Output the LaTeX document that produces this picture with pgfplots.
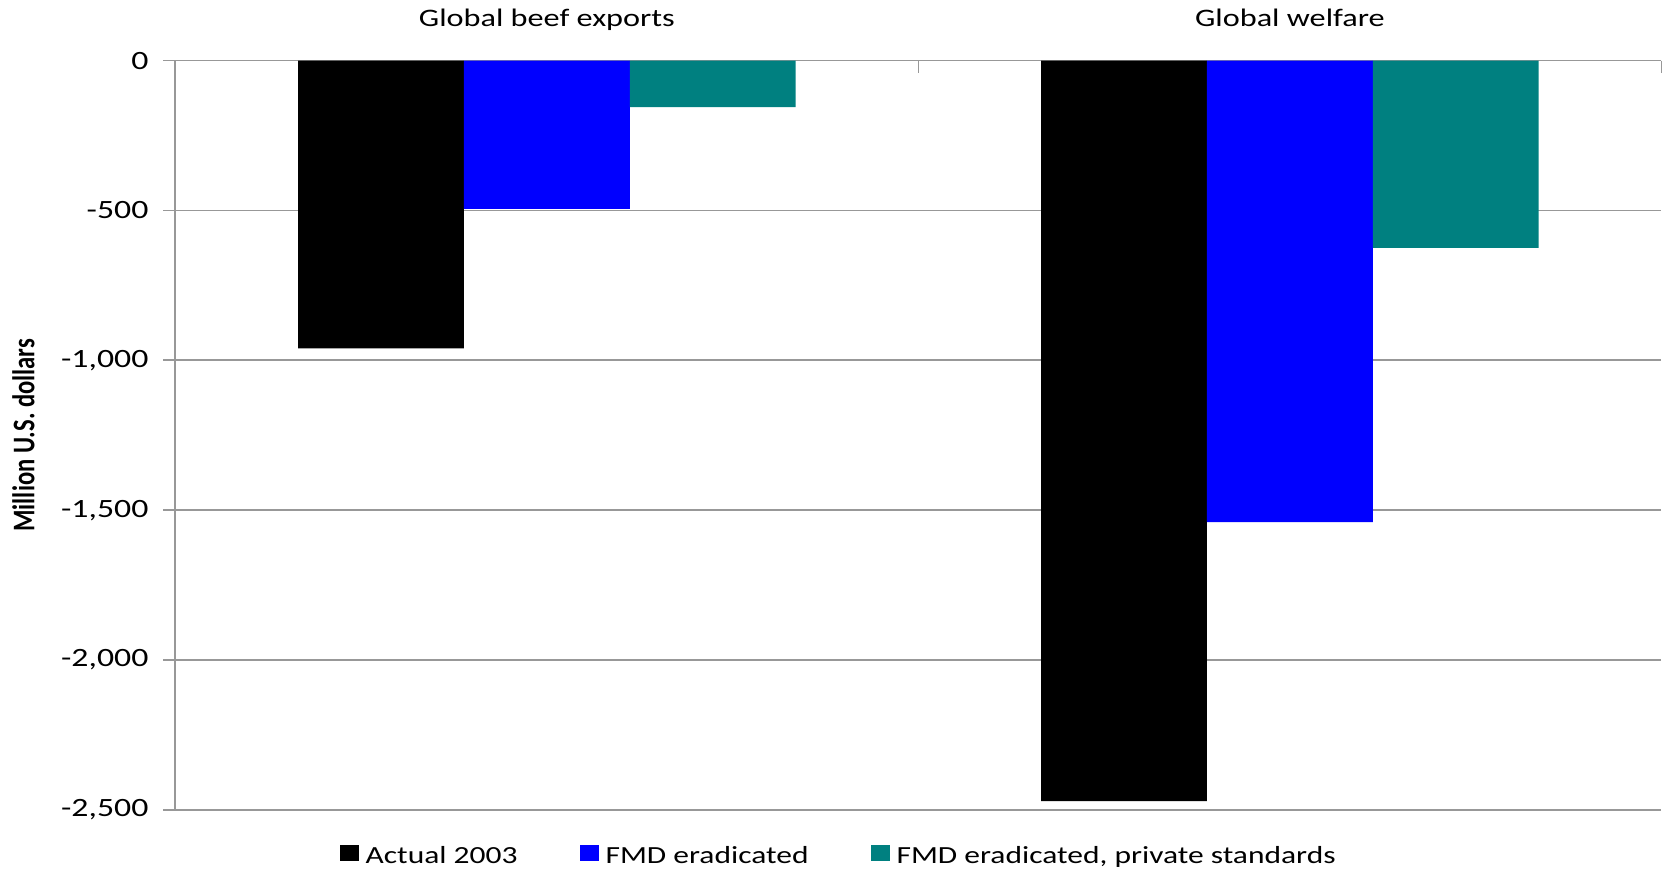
\documentclass[border=0pt]{standalone}
\usepackage{fontspec}
\setmainfont{Carlito}[FakeStretch=1.28]
\newfontfamily\ylabfont{Carlito}
\usepackage{graphicx}
\usepackage{pgfplots}
\pgfplotsset{compat=1.18}
\definecolor{fmdblue}{RGB}{0,0,255}
\definecolor{fmdteal}{RGB}{0,128,128}
\definecolor{gridgray}{RGB}{152,152,152}

\begin{document}
\fontsize{12.3pt}{14.8pt}\selectfont
\begin{tikzpicture}
\path[use as bounding box] (-87.7pt,-31pt) rectangle (745.8pt,405pt);
\begin{axis}[
  at={(0pt,0pt)}, anchor=south west,
  scale only axis, width=743pt, height=374.7pt,
  ybar=0pt, bar width=0.2232,
  xmin=-0.5, xmax=1.5, ymin=-2500, ymax=0,
  axis x line*=top, axis y line*=left,
  axis line style={draw=gridgray, line width=0.9pt, -},
  xtick={-0.5,0.5,1.5}, xticklabels={},
  xtick align=inside,
  extra x ticks={0,1},
  extra x tick labels={Global beef exports, Global welfare},
  extra x tick style={major tick length=0pt},
  xticklabel style={anchor=base, yshift=17pt, font=\fontsize{12.6pt}{15pt}\selectfont},
  ytick={-2500,-2000,-1500,-1000,-500,0},
  yticklabels={{-2,500},{-2,000},{-1,500},{-1,000},{-500},{0}},
  yticklabel style={font=\fontsize{13.2pt}{15pt}\selectfont, xshift=-3.2pt},
  ytick align=outside,
  major tick length=6pt,
  tick style={draw=gridgray, line width=0.9pt},
  ymajorgrids, grid style={draw=gridgray, line width=0.9pt},
  ylabel={\scalebox{1}[1.28]{\ylabfont\bfseries Million U.S. dollars}},
  every axis y label/.style={at={(rel axis cs:0,0.5)}, xshift=-76pt, rotate=90, anchor=center},
  legend style={at={(0.447,0)}, anchor=center, yshift=-23.5pt, draw=none, fill=none,
    legend columns=3, /tikz/every even column/.append style={column sep=29pt}},
  legend cell align=left,
  legend image code/.code={\draw[#1,draw=none] (0pt,-2.2pt) rectangle (9.7pt,6.1pt);
    \path (11pt,0pt);},
]
\addplot[fill=black, draw=none] coordinates {(0,-960) (1,-2470)};
\addplot[fill=fmdblue, draw=none] coordinates {(0,-495) (1,-1540)};
\addplot[fill=fmdteal, draw=none] coordinates {(0,-155) (1,-625)};
\legend{Actual 2003, FMD eradicated, {FMD eradicated, private standards}}
\end{axis}
\end{tikzpicture}
\end{document}
